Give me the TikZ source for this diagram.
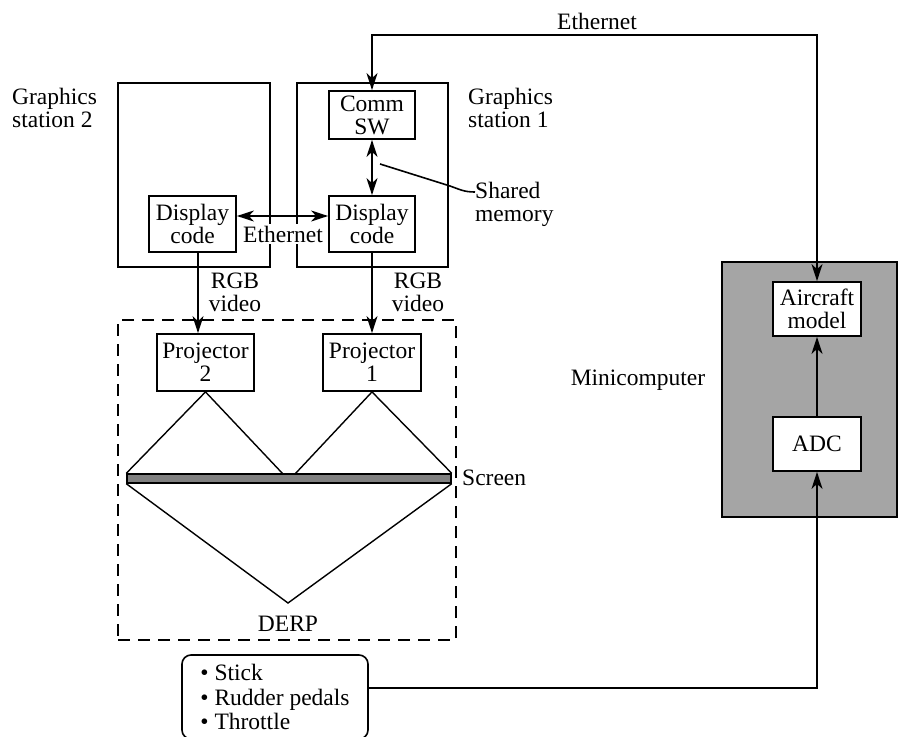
\documentclass[tikz,border=0pt]{standalone}
\usepackage{fontspec}
\setmainfont{Liberation Serif}
\usetikzlibrary{arrows.meta}
\definecolor{minigray}{RGB}{165,165,165}
\definecolor{scrgray}{RGB}{128,128,128}
\begin{document}
\begin{tikzpicture}[x=1pt,y=-1pt,
  every node/.style={font=\fontsize{23.5}{23}\selectfont, inner sep=0pt, align=center},
  box/.style={draw, line width=1.8pt, fill=white},
  frame/.style={draw, line width=1.8pt},
  conn/.style={line width=1.6pt},
  arr/.style={conn, -{Stealth[length=17pt,width=11pt,inset=5pt]}},
  arrb/.style={conn, {Stealth[length=17pt,width=11pt,inset=5pt]}-{Stealth[length=17pt,width=11pt,inset=5pt]}},
  thin/.style={line width=1.4pt}]
\useasboundingbox (0,0) rectangle (899,736);

% graphics stations
\node[frame, minimum width=152pt, minimum height=184pt] (st2) at (194,175) {};
\node[frame, minimum width=151pt, minimum height=184pt] (st1) at (372.5,175) {};
\node[box, minimum width=86pt, minimum height=48pt] (comm) at (372,115) {Comm\\SW};
\node[box, minimum width=87pt, minimum height=56pt] (disp2) at (192.5,224) {Display\\code};
\node[box, minimum width=86pt, minimum height=56pt] (disp1) at (372,224) {Display\\code};
\node[fill=white, inner xsep=1pt, inner ysep=2pt] (ethmid) at (283,234) {Ethernet};

\node[anchor=west, align=left] (gs2) at (12,108) {Graphics\\station 2};
\node[anchor=west, align=left] (gs1) at (468,108) {Graphics\\station 1};
\node[anchor=west, align=left] (shm) at (475,204) {Shared\\memory};

% DERP
\node[draw, line width=1.6pt, dash pattern=on 12pt off 8pt, minimum width=338pt, minimum height=320pt] (derp) at (287,480) {};
\node[box, minimum width=97pt, minimum height=57pt] (proj2) at (205.5,362.5) {Projector\\2};
\node[box, minimum width=98pt, minimum height=57pt] (proj1) at (372,362.5) {Projector\\1};
\node[draw, line width=1.4pt, fill=scrgray, minimum width=324pt, minimum height=9pt] (screen) at (289,478.5) {};
\coordinate (s2r) at (283,474);
\coordinate (s1l) at (295,474);
\coordinate (derpapex) at (288,603);
\node (derplbl) at (288,624) {DERP};
\node[anchor=west] (scrlbl) at (462,478) {Screen};
\node (rgb2) at (235,292) {RGB\\video};
\node (rgb1) at (418,292) {RGB\\video};

% minicomputer
\node[draw, line width=1.8pt, fill=minigray, minimum width=175pt, minimum height=255pt] (mini) at (809.5,389.5) {};
\node[box, minimum width=88pt, minimum height=54pt] (aircraft) at (817,309) {Aircraft\\model};
\node[box, minimum width=88pt, minimum height=54pt] (adc) at (817,444) {ADC};
\node (minilbl) at (638,380) {Minicomputer};

% controls
\node[draw, line width=1.6pt, rounded corners=9pt, minimum width=186pt, minimum height=84pt, align=left, inner xsep=18pt, font=\fontsize{23.5}{24.5}\selectfont] (stick) at (275,697) {• Stick\\• Rudder pedals\\• Throttle};

% top ethernet
\coordinate (ethtop) at (372,35);
\coordinate (ethtopr) at (817,35);
\node (ethlbl) at (597,21) {Ethernet};
\draw[arrb] (comm.north) -- (ethtop) -- (ethtopr) -- (aircraft.north);

% internal connectors
\draw[arrb] (comm.south) -- (disp1.north);
\draw[arrb] ([yshift=8pt]disp2.east) -- ([yshift=8pt]disp1.west);
\coordinate (shmstart) at (380,164);
\draw[conn] (shmstart) -- (450,186) .. controls (460,189.5) and (464,192) .. (shm.west |- 0,192);

% RGB video
\coordinate (rgbx2) at (198,0);
\draw[arr] (disp2.south -| rgbx2) -- (proj2.north -| rgbx2);
\draw[arr] (disp1.south) -- (proj1.north);

% projection triangles
\draw[thin] (screen.north west) -- (proj2.south) -- (s2r);
\draw[thin] (s1l) -- (proj1.south) -- (screen.north east);
\draw[thin] (screen.south west) -- (derpapex) -- (screen.south east);

% minicomputer connectors
\draw[arr] (adc.north) -- (aircraft.south);
\draw[arr] ([yshift=9pt]stick.east) -| (adc.south);
\end{tikzpicture}
\end{document}
